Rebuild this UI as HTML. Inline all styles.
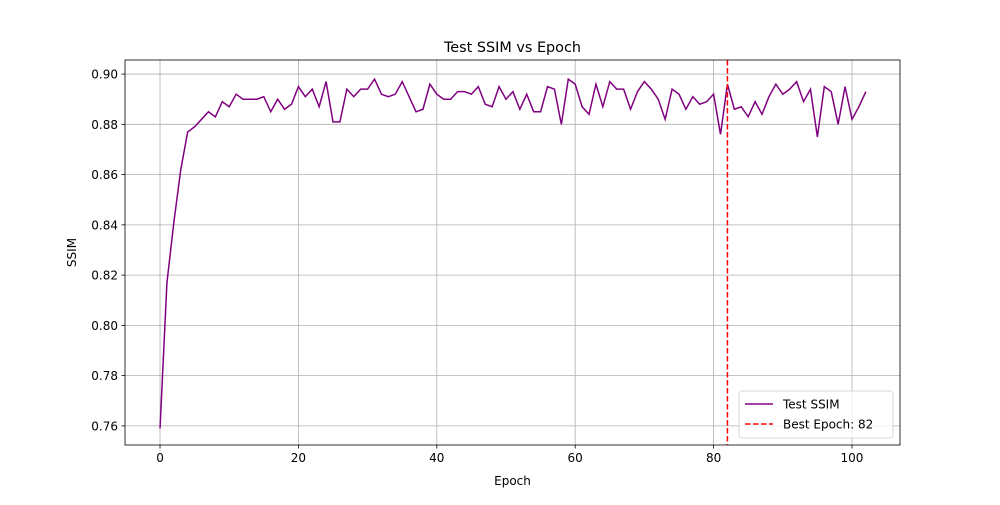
<!DOCTYPE html>
<html><head><meta charset="utf-8"><style>
body{margin:0;background:#fff;font-family:"Liberation Sans","DejaVu Sans",sans-serif}
svg text{font-family:"DejaVu Sans","Liberation Sans",sans-serif}
</style></head><body>
<svg id="c" width="1000" height="500"></svg>
<script>
const epochs=[];for(let i=0;i<=102;i++)epochs.push(i);
const ssim=[0.759,0.817,0.841,0.862,0.877,0.879,0.882,0.885,0.883,0.889,0.887,0.892,0.890,0.890,0.890,0.891,0.885,0.890,0.886,0.888,0.895,0.891,0.894,0.887,0.897,0.881,0.881,0.894,0.891,0.894,0.894,0.898,0.892,0.891,0.892,0.897,0.891,0.885,0.886,0.896,0.892,0.890,0.890,0.893,0.893,0.892,0.895,0.888,0.887,0.895,0.890,0.893,0.886,0.892,0.885,0.885,0.895,0.894,0.880,0.898,0.896,0.887,0.884,0.896,0.887,0.897,0.894,0.894,0.886,0.893,0.897,0.894,0.890,0.882,0.894,0.892,0.886,0.891,0.888,0.889,0.892,0.876,0.896,0.886,0.887,0.883,0.889,0.884,0.891,0.896,0.892,0.894,0.897,0.889,0.894,0.875,0.895,0.893,0.880,0.895,0.882,0.887,0.893];
const bestEpoch=82;
const xTicks=[0,20,40,60,80,100];
const yTicks=[0.76,0.78,0.80,0.82,0.84,0.86,0.88,0.90];
const L=125,R=900,T=60,B=445;
const xMin=-5.06,xMax=106.94,yMin=0.7524,yMax=0.9056;
const X=v=>L+(v-xMin)/(xMax-xMin)*(R-L);
const Y=v=>B-(v-yMin)/(yMax-yMin)*(B-T);
const s=document.getElementById('c');const NS='http://www.w3.org/2000/svg';
function mk(t,a,txt){const e=document.createElementNS(NS,t);for(const k in a)e.setAttribute(k,a[k]);if(txt!=null)e.textContent=txt;s.appendChild(e);return e;}
xTicks.forEach(v=>{
const g=mk('line',{x1:X(v),x2:X(v),y1:T,y2:B,stroke:'#b0b0b0','stroke-width':0.8});


mk('line',{x1:X(v),x2:X(v),y1:B,y2:B+3.5,stroke:'#000','stroke-width':0.8});
const t=mk('text',{x:X(v),y:B+17,'font-size':12,'text-anchor':'middle'},String(v));


});
yTicks.forEach(v=>{
const g=mk('line',{x1:L,x2:R,y1:Y(v),y2:Y(v),stroke:'#b0b0b0','stroke-width':0.8});


mk('line',{x1:L-3.5,x2:L,y1:Y(v),y2:Y(v),stroke:'#000','stroke-width':0.8});
const t=mk('text',{x:L-7,y:Y(v)+4.5,'font-size':12,'text-anchor':'end'},v.toFixed(2));


});
const p=mk('polyline',{points:epochs.map((e,i)=>X(e)+','+Y(ssim[i])).join(' '),fill:'none',stroke:'purple','stroke-width':1.5});


const bl=mk('line',{x1:X(bestEpoch),x2:X(bestEpoch),y1:T,y2:B,stroke:'red','stroke-width':1.5,'stroke-dasharray':'5.5,2.5'});


const fr=mk('rect',{x:L,y:T,width:R-L,height:B-T,fill:'none',stroke:'#000','stroke-width':0.8});


const ti=mk('text',{x:(L+R)/2,y:52,'font-size':14.4,'text-anchor':'middle'},'Test SSIM vs Epoch');


const xl=mk('text',{x:(L+R)/2,y:485,'font-size':12,'text-anchor':'middle'},'Epoch');


const yl=mk('text',{x:76,y:(T+B)/2,'font-size':12,'text-anchor':'middle',transform:'rotate(-90 76 '+((T+B)/2)+')'},'SSIM');


const lg=mk('rect',{x:739,y:391,width:154,height:47,rx:3,fill:'#fff','fill-opacity':0.8,stroke:'#ccc','stroke-width':0.8});


mk('line',{x1:745,x2:773,y1:404,y2:404,stroke:'purple','stroke-width':1.5});
const l1=mk('text',{x:783,y:408.5,'font-size':12},'Test SSIM');


mk('line',{x1:745,x2:773,y1:424,y2:424,stroke:'red','stroke-width':1.5,'stroke-dasharray':'5.5,2.5'});
const l2=mk('text',{x:783,y:428.5,'font-size':12},'Best Epoch: '+bestEpoch);


</script></body></html>
